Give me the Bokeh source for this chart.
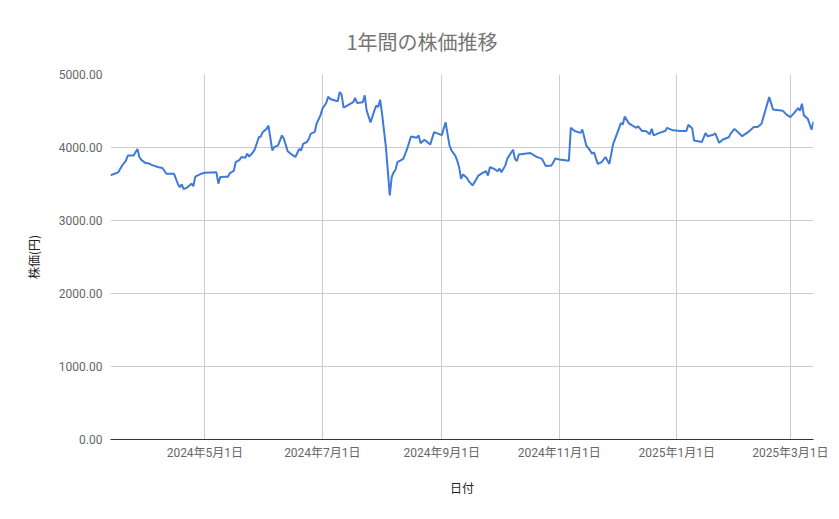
import pandas as pd
from bokeh.plotting import figure
from bokeh.models import Range1d, FixedTicker, NumeralTickFormatter, ColumnDataSource
from bokeh.embed import file_html
from bokeh.resources import INLINE

dates = [
    "2024-03-13", "2024-03-17", "2024-03-19", "2024-03-21", "2024-03-22", "2024-03-25", "2024-03-26",
    "2024-03-27", "2024-03-28", "2024-03-29", "2024-03-31", "2024-04-02", "2024-04-04", "2024-04-07",
    "2024-04-09", "2024-04-11", "2024-04-15", "2024-04-17", "2024-04-18", "2024-04-19", "2024-04-20",
    "2024-04-22", "2024-04-24", "2024-04-25", "2024-04-26", "2024-04-29", "2024-05-01", "2024-05-07",
    "2024-05-08", "2024-05-09", "2024-05-12", "2024-05-13", "2024-05-14", "2024-05-16", "2024-05-17",
    "2024-05-19", "2024-05-20", "2024-05-22", "2024-05-23", "2024-05-24", "2024-05-26", "2024-05-27",
    "2024-05-29", "2024-05-30", "2024-05-31", "2024-06-02", "2024-06-03", "2024-06-05", "2024-06-06",
    "2024-06-08", "2024-06-10", "2024-06-11", "2024-06-13", "2024-06-15", "2024-06-17", "2024-06-19",
    "2024-06-20", "2024-06-21", "2024-06-23", "2024-06-24", "2024-06-25", "2024-06-27", "2024-06-28",
    "2024-06-30", "2024-07-01", "2024-07-03", "2024-07-04", "2024-07-05", "2024-07-08", "2024-07-09",
    "2024-07-10", "2024-07-11", "2024-07-12", "2024-07-15", "2024-07-17", "2024-07-18", "2024-07-19",
    "2024-07-22", "2024-07-23", "2024-07-24", "2024-07-26", "2024-07-28", "2024-07-29", "2024-07-30",
    "2024-07-31", "2024-08-01", "2024-08-03", "2024-08-05", "2024-08-06", "2024-08-07", "2024-08-08",
    "2024-08-09", "2024-08-12", "2024-08-14", "2024-08-16", "2024-08-19", "2024-08-20", "2024-08-21",
    "2024-08-23", "2024-08-26", "2024-08-28", "2024-08-30", "2024-09-01", "2024-09-03", "2024-09-05",
    "2024-09-06", "2024-09-08", "2024-09-09", "2024-09-10", "2024-09-11", "2024-09-12", "2024-09-14",
    "2024-09-15", "2024-09-17", "2024-09-19", "2024-09-20", "2024-09-22", "2024-09-24", "2024-09-25",
    "2024-09-26", "2024-09-28", "2024-09-30", "2024-10-01", "2024-10-02", "2024-10-04", "2024-10-05",
    "2024-10-08", "2024-10-09", "2024-10-10", "2024-10-11", "2024-10-14", "2024-10-17", "2024-10-20",
    "2024-10-23", "2024-10-25", "2024-10-28", "2024-10-30", "2024-11-01", "2024-11-06", "2024-11-07",
    "2024-11-09", "2024-11-12", "2024-11-13", "2024-11-15", "2024-11-17", "2024-11-18", "2024-11-19",
    "2024-11-21", "2024-11-23", "2024-11-25", "2024-11-27", "2024-11-29", "2024-12-01", "2024-12-03",
    "2024-12-04", "2024-12-05", "2024-12-07", "2024-12-09", "2024-12-11", "2024-12-12", "2024-12-14",
    "2024-12-16", "2024-12-18", "2024-12-19", "2024-12-20", "2024-12-23", "2024-12-26", "2024-12-27",
    "2024-12-30", "2025-01-03", "2025-01-06", "2025-01-07", "2025-01-09", "2025-01-10", "2025-01-12",
    "2025-01-14", "2025-01-16", "2025-01-17", "2025-01-20", "2025-01-21", "2025-01-23", "2025-01-25",
    "2025-01-28", "2025-01-29", "2025-01-31", "2025-02-04", "2025-02-07", "2025-02-10", "2025-02-12",
    "2025-02-14", "2025-02-18", "2025-02-20", "2025-02-25", "2025-02-27", "2025-03-01", "2025-03-03",
    "2025-03-05", "2025-03-06", "2025-03-07", "2025-03-08", "2025-03-10", "2025-03-12", "2025-03-13",
]

prices = [
    3620, 3660, 3750, 3820, 3890, 3890, 3935,
    3980, 3870, 3830, 3790, 3780, 3755, 3730,
    3720, 3640, 3640, 3500, 3455, 3495, 3430,
    3455, 3505, 3470, 3600, 3640, 3655, 3660,
    3505, 3595, 3600, 3600, 3650, 3680, 3800,
    3830, 3870, 3860, 3915, 3875, 3935, 3980,
    4140, 4150, 4210, 4255, 4300, 3960, 4005,
    4030, 4165, 4120, 3950, 3905, 3870, 3980,
    3960, 4050, 4075, 4120, 4190, 4210, 4325,
    4440, 4530, 4610, 4695, 4665, 4640, 4635,
    4760, 4725, 4545, 4590, 4620, 4680, 4610,
    4620, 4715, 4505, 4345, 4505, 4575, 4555,
    4655, 4460, 4005, 3345, 3595, 3660, 3695,
    3800, 3845, 3980, 4150, 4135, 4165, 4060,
    4105, 4040, 4210, 4190, 4170, 4345, 4030,
    3960, 3890, 3820, 3730, 3570, 3630, 3585,
    3540, 3480, 3570, 3615, 3650, 3675, 3615,
    3730, 3710, 3675, 3710, 3660, 3755, 3845,
    3970, 3845, 3815, 3905, 3915, 3925, 3875,
    3845, 3745, 3755, 3850, 3835, 3820, 4270,
    4225, 4200, 4245, 4030, 3960, 3915, 3935,
    3775, 3800, 3870, 3775, 4050, 4190, 4335,
    4315, 4425, 4335, 4300, 4270, 4290, 4225,
    4225, 4180, 4255, 4165, 4200, 4225, 4270,
    4235, 4225, 4225, 4310, 4265, 4095, 4085,
    4075, 4200, 4155, 4175, 4195, 4065, 4110,
    4140, 4190, 4255, 4155, 4210, 4280, 4280,
    4325, 4690, 4520, 4505, 4450, 4415, 4475,
    4540, 4505, 4600, 4440, 4395, 4245, 4355,
]

x_tick_dates = ["2024-05-01", "2024-07-01", "2024-09-01", "2024-11-01", "2025-01-01", "2025-03-01"]
x_tick_labels = ["2024年5月1日", "2024年7月1日", "2024年9月1日", "2024年11月1日", "2025年1月1日", "2025年3月1日"]
y_ticks = [0, 1000, 2000, 3000, 4000, 5000]

title_text = "1年間の株価推移"
x_label = "日付"
y_label = "株価(円)"

dt = pd.to_datetime(dates)
src = ColumnDataSource(dict(x=dt, y=prices))

FONT = "Roboto, Noto Sans CJK JP"
CJK = "Noto Sans CJK JP"

p = figure(width=831, height=511, x_axis_type="datetime",
           output_backend="svg", toolbar_location=None,
           x_range=Range1d(dt[0], dt[-1]), y_range=Range1d(0, 5000),
           min_border_left=110, min_border_right=18, min_border_top=74, min_border_bottom=72,
           title=title_text)
p.outline_line_color = None
p.background_fill_color = "white"
p.border_fill_color = "white"

p.title.align = "left"
p.title.offset = 236
p.title.standoff = 37
p.title.text_font = CJK
p.title.text_font_size = "20px"
p.title.text_font_style = "normal"
p.title.text_color = "#757575"

p.line("x", "y", source=src, line_color="#3f7ad8", line_width=2)

tick_ms = [int(pd.Timestamp(d).value // 10**6) for d in x_tick_dates]
p.xaxis.ticker = FixedTicker(ticks=tick_ms)
p.xaxis.major_label_overrides = {t: lab for t, lab in zip(tick_ms, x_tick_labels)}
p.yaxis.ticker = FixedTicker(ticks=y_ticks)
p.yaxis.formatter = NumeralTickFormatter(format="0.00")

for ax in (p.xaxis[0], p.yaxis[0]):
    ax.major_tick_line_color = None
    ax.minor_tick_line_color = None
    ax.major_label_text_font = FONT
    ax.major_label_text_font_size = "12px"
    ax.major_label_text_color = "#666666"
    ax.axis_label_text_font = CJK
    ax.axis_label_text_font_size = "12px"
    ax.axis_label_text_font_style = "normal"
    ax.axis_label_text_color = "#222222"
p.xaxis.major_label_standoff = 0
p.yaxis.major_label_standoff = 2
p.yaxis.axis_line_color = None
p.xaxis.axis_line_color = "#333333"
p.xaxis.axis_line_width = 1

p.xaxis.axis_label = x_label
p.xaxis.axis_label_standoff = 16
p.yaxis.axis_label = y_label
p.yaxis.axis_label_standoff = 14

p.xgrid.grid_line_color = "#cccccc"
p.ygrid.grid_line_color = "#cccccc"

open("out.html", "w").write(file_html(p, INLINE))
